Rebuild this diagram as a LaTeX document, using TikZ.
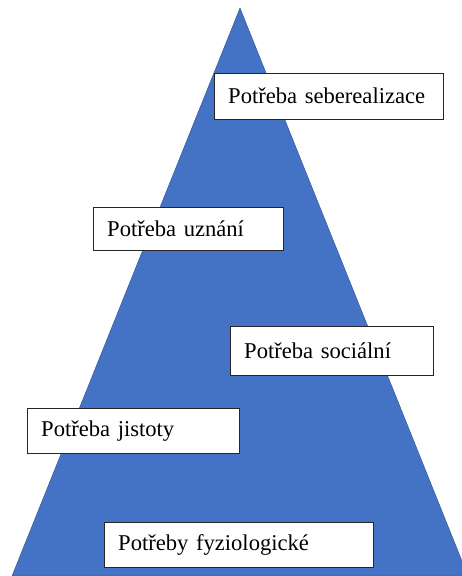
\documentclass[tikz,border=0pt]{standalone}
\usepackage{fontspec}
\setmainfont{Liberation Serif}
\usetikzlibrary{positioning}
\definecolor{pyramidblue}{HTML}{4472C4}
\definecolor{pyramidedge}{HTML}{2F528F}

\begin{document}
\begin{tikzpicture}[x=1pt, y=-1pt, level/.style={rectangle, draw=black!85, fill=white, anchor=north west, align=left, inner xsep=14pt, inner ysep=0pt, minimum height=45pt, font=\fontsize{22.6}{26}\selectfont}]
\useasboundingbox (0,0) rectangle (462,576);
\clip (0,0) rectangle (462,576);
% pyramid
\coordinate (apex) at (240,8);
\coordinate (baseL) at (12,576);
\coordinate (baseR) at (468,576);
\filldraw [fill=pyramidblue, draw=pyramidedge] (apex) -- (baseL) -- (baseR) -- cycle;
% levels
\node [level, text width=201pt, minimum height=46pt] (L5) at (214,73) {Potřeba seberealizace};
\node [level, text width=162pt, minimum height=43pt] (L4) at (93,207) {Potřeba uznání};
\node [level, text width=175pt, minimum height=49pt] (L3) at (230,326) {Potřeba sociální};
\node [level, text width=184pt] (L2) at (27,408) {Potřeba jistoty};
\node [level, text width=241pt] (L1) at (104,522) {Potřeby fyziologické};
\end{tikzpicture}
\end{document}
